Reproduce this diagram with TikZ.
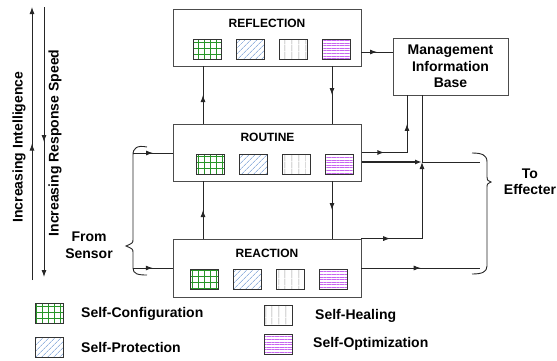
\documentclass[tikz,border=0pt]{standalone}
\usepackage{fontspec}
\setmainfont{Liberation Sans}
\usetikzlibrary{arrows.meta,patterns.meta,decorations.markings}
\definecolor{cfggreen}{RGB}{40,150,40}
\definecolor{protblue}{RGB}{95,140,205}
\definecolor{healgray}{RGB}{150,150,150}
\definecolor{optviolet}{RGB}{200,100,240}

\begin{document}
\begin{tikzpicture}[x=1pt,y=-1pt,
  every node/.style = {inner sep=0pt, text=black},
  layer/.style = {draw=black!70, line width=0.9pt, minimum width=188pt, minimum height=57pt},
  tag/.style = {font=\bfseries\fontsize{12}{14}\selectfont},
  txt/.style = {font=\bfseries\fontsize{14}{16.5}\selectfont, align=center},
  swatch/.style = {draw=black!80, line width=0.8pt, minimum width=28pt, minimum height=20pt},
  cfg/.style = {swatch, pattern={Hatch[distance=6pt,line width=0.7pt]}, pattern color=cfggreen},
  prot/.style = {swatch, pattern={Lines[angle=45,distance=4pt,line width=0.6pt]}, pattern color=protblue},
  heal/.style = {swatch, pattern={Lines[angle=90,distance=6.5pt,line width=0.5pt]}, pattern color=healgray},
  opt/.style = {swatch, pattern={Lines[angle=0,distance=2.6pt,line width=0.5pt]}, pattern color=optviolet},
  link/.style = {draw=black!85, line width=0.9pt},
  heavy link/.style = {draw=black!85, line width=1.4pt},
  tip/.tip = {Latex[length=7pt,width=5pt]},
  tipat/.style = {postaction={decorate, decoration={markings, mark=at position #1 with {\arrow{tip}}}}}]
\useasboundingbox (0,0) rectangle (557,360);
% layers
\node[layer] (3;0) at (267,37.5) {};
  \node[layer] (2;0) at (267.5,152.5) {};
  \node[layer, minimum height=58pt] (1;0) at (267,268) {};
\node[tag] (3;t) at (267,23) {REFLECTION};
  \node[tag] (2;t) at (267.5,137) {ROUTINE};
  \node[tag] (1;t) at (267,253) {REACTION};
\node[layer, txt, minimum width=115pt] (3;1) at (450.5,66.5) {Management\\Information\\Base};
\foreach \b/\yy/\lv in {207/49/3, 210/164/2, 204/279.5/1}
  \foreach \p [count=\k] in {cfg,prot,heal,opt}
    { \node[\p] (\lv;\p) at ({\b+43*(\k-1)},\yy) {}; }
% legend
\node[cfg]  (k;1) at (49.5,313) {};
\node[prot] (k;2) at (49.5,347.5) {};
\node[heal] (k;3) at (278,315.5) {};
\node[opt]  (k;4) at (278,344) {};
\node[txt, anchor=west] (k;1t) at (81,314) {Self-Configuration};
\node[txt, anchor=west] (k;2t) at (81,347) {Self-Protection};
\node[txt, anchor=west] (k;3t) at (315,316) {Self-Healing};
\node[txt, anchor=west] (k;4t) at (313,344) {Self-Optimization};
% side labels
\node[txt, rotate=90] (i;t) at (19,147) {Increasing Intelligence};
\node[txt, rotate=90] (v;t) at (55,143) {Increasing Response Speed};
\node[txt] (s;t) at (89,245) {From\\Sensor};
\node[txt] (e;t) at (530,181.5) {To\\Effecter};
\coordinate (i;0) at (32,280);
\coordinate (i;1) at (32,7);
\coordinate (v;0) at (44,7);
\coordinate (v;1) at (44,277);
\coordinate (up) at (203,0);
\coordinate (dn) at (332,0);
\coordinate (m;x) at (407,0);
\coordinate (jn) at (422,162);
\coordinate (e;1) at (480,162);
\coordinate (e;2) at (480,268);
\coordinate (s;1) at (133,153);
\coordinate (s;2) at (133,268);
\coordinate (r;in) at ([yshift=-14.5pt]3;0.east);
\coordinate (2;o) at ([yshift=-9.5pt]2;0.east);
% links
\draw[link, tipat=.5, -tip] (i;0) -- (i;1);
\draw[link, tipat=.5, -tip] (v;0) -- (v;1);
\foreach \a/\b in {1/2, 2/3}
  { \draw[link, tipat=.5] (\a;0.north -| up) -- (\b;0.south -| up);
    \draw[link, tipat=.5] (\b;0.south -| dn) -- (\a;0.north -| dn); }
\draw[link, tipat=.5] (r;in) -- (r;in -| 3;1.west);
\draw[heavy link, tipat=.5] (2;0.east) -- (2;0.east -| m;x);
\draw[link, tipat=.5] (2;0.east -| m;x) -- (3;1.south -| m;x);
\draw[heavy link, -tip] (2;o) -- (jn);
\draw[link] (jn) -- (e;1);
\draw[link] (3;1.south -| jn) -- (jn);
\draw[link, tipat=.21, -tip] (1;0.north east) -- (1;0.north east -| jn) -- (jn);
\draw[link, tipat=.5] (1;0.east) -- (e;2);
\draw[link, tipat=.5] (s;1) -- (s;1 -| 2;0.west);
\draw[link, tipat=.5] (s;2) -- (s;2 -| 1;0.west);
% braces
\draw[link] (147,147) .. controls (137,145) and (133,148) .. (133,155) -- (133,239)
  .. controls (133,243) .. (126,246) .. controls (133,249) .. (133,253) -- (133,268)
  .. controls (133,274) and (138,275) .. (147,275);
\draw[link] (472,153) .. controls (482,153) and (487,155) .. (487,162) -- (487,177)
  .. controls (487,180) .. (491,182) .. controls (487,184) .. (487,188) -- (487,266)
  .. controls (487,272) and (482,274) .. (472,274);
\end{tikzpicture}
\end{document}
